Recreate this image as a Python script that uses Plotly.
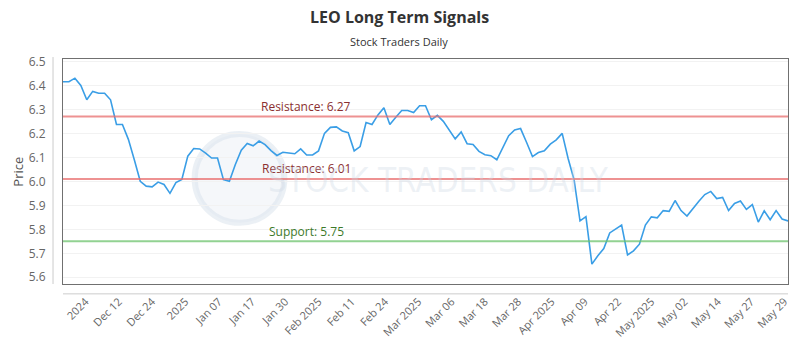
import plotly.graph_objects as go

# ---- data ----
prices = [
    6.415, 6.415, 6.43, 6.40, 6.34, 6.375, 6.367, 6.367, 6.34, 6.237,
    6.237, 6.175, 6.09, 6.00, 5.98, 5.977, 5.997, 5.987, 5.95, 5.995,
    6.008, 6.105, 6.137, 6.135, 6.118, 6.097, 6.097, 6.007, 6.00, 6.07,
    6.13, 6.158, 6.148, 6.168, 6.153, 6.128, 6.108, 6.121, 6.118, 6.115,
    6.135, 6.11, 6.11, 6.127, 6.20, 6.225, 6.227, 6.21, 6.203, 6.127,
    6.145, 6.245, 6.237, 6.277, 6.307, 6.237, 6.267, 6.295, 6.295, 6.287,
    6.315, 6.315, 6.257, 6.275, 6.25, 6.215, 6.177, 6.206, 6.157, 6.154,
    6.125, 6.111, 6.107, 6.09, 6.142, 6.19, 6.214, 6.22, 6.163, 6.103,
    6.12, 6.127, 6.155, 6.173, 6.20, 6.095, 6.007, 5.835, 5.853, 5.655,
    5.69, 5.72, 5.785, 5.80, 5.818, 5.693, 5.71, 5.738, 5.818, 5.852,
    5.848, 5.878, 5.875, 5.92, 5.878, 5.855, 5.887, 5.917, 5.945, 5.958,
    5.928, 5.933, 5.878, 5.908, 5.918, 5.883, 5.903, 5.83, 5.877, 5.84,
    5.878, 5.843, 5.835,
]
tick_labels = [
    "2024", "Dec 12", "Dec 24", "2025", "Jan 07", "Jan 17", "Jan 30",
    "Feb 2025", "Feb 11", "Feb 24", "Mar 2025", "Mar 06", "Mar 18",
    "Mar 28", "Apr 2025", "Apr 09", "Apr 22", "May 2025", "May 02",
    "May 14", "May 27", "May 29",
]
levels = [6.27, 6.01, 5.75]
level_names = ["Resistance", "Resistance", "Support"]

x = list(range(len(prices)))
first_tick, tick_step = 3.8, 5.6
tickvals = [first_tick + i * tick_step for i in range(len(tick_labels))]

FONT = "Open Sans, Noto Sans, sans-serif"

fig = go.Figure()
fig.add_trace(go.Scatter(
    x=x, y=prices, mode="lines",
    line=dict(color="#3a9ee6", width=1.6),
    hoverinfo="y", showlegend=False,
))

line_colors = ["rgba(232,110,110,0.75)", "rgba(232,110,110,0.75)", "rgba(110,195,110,0.75)"]
text_colors = ["#8b2f2f", "#8b2f2f", "#3d7a2a"]
for lvl, name, lc, tc in zip(levels, level_names, line_colors, text_colors):
    fig.add_shape(type="line", xref="paper", x0=0, x1=1, yref="y", y0=lvl, y1=lvl,
                  line=dict(color=lc, width=2))
    fig.add_annotation(xref="paper", x=(307 - 63) / 727, yref="y", y=lvl, yshift=10,
                       text=f"{name}: {lvl:.2f}", showarrow=False,
                       font=dict(family=FONT, size=12, color=tc))

# watermark
fig.add_shape(type="circle", xref="paper", yref="paper", layer="below",
              x0=(195 - 63) / 727, x1=(285 - 63) / 727,
              y0=(287 - 225) / 228, y1=(287 - 135) / 228,
              line=dict(color="rgba(215,225,235,0.5)", width=6),
              fillcolor="rgba(225,232,240,0.35)")
fig.add_annotation(xref="paper", yref="paper", x=(440 - 63) / 727, y=(287 - 182) / 228,
                   text="STOCK TRADERS DAILY", showarrow=False,
                   font=dict(family="DejaVu Sans Condensed, Roboto, sans-serif", size=33,
                             color="rgba(205,215,228,0.35)"))

# offset axis lines
fig.add_shape(type="line", xref="paper", yref="paper", x0=-10 / 727, x1=-10 / 727,
              y0=0, y1=(287 - 57) / 228, line=dict(color="#cccccc", width=1))
fig.add_shape(type="line", xref="paper", yref="paper", x0=0, x1=1,
              y0=-10 / 228, y1=-10 / 228, line=dict(color="#cccccc", width=1))

# titles
fig.add_annotation(xref="paper", yref="paper", x=(400 - 63) / 727, y=(287 - 16) / 228,
                   xanchor="center", yanchor="middle",
                   text="<b>LEO Long Term Signals</b>", showarrow=False,
                   font=dict(family=FONT, size=16, color="#333333"))
fig.add_annotation(xref="paper", yref="paper", x=(400 - 63) / 727, y=(287 - 41) / 228,
                   xanchor="center", yanchor="middle",
                   text="Stock Traders Daily", showarrow=False,
                   font=dict(family=FONT, size=11, color="#333333"))
fig.add_annotation(xref="paper", yref="paper", x=(17 - 63) / 727, y=0.5,
                   xanchor="center", yanchor="middle",
                   text="Price", textangle=-90, showarrow=False,
                   font=dict(family=FONT, size=13, color="#555555"))

fig.update_layout(
    width=800, height=350,
    margin=dict(l=63, r=10, t=59, b=63),
    paper_bgcolor="white", plot_bgcolor="white",
    font=dict(family=FONT, size=11, color="#666666"),
    xaxis=dict(
        range=[0, len(prices) - 1], tickmode="array", tickvals=tickvals, ticktext=tick_labels,
        tickangle=-45, showgrid=False, zeroline=False, ticks="",
        showline=True, mirror=True, linecolor="#707070", linewidth=1,
        ticklabelstandoff=6, tickfont=dict(size=11, color="#666666"),
    ),
    yaxis=dict(
        range=[5.572, 6.51], dtick=0.1, tick0=5.6, tickformat=".1f",
        showgrid=True, gridcolor="#f2f2f2", zeroline=False, ticks="",
        showline=True, mirror=True, linecolor="#707070", linewidth=1,
        ticklabelstandoff=14, tickfont=dict(size=12, color="#666666"),
    ),
)

fig.write_html("out.html")
